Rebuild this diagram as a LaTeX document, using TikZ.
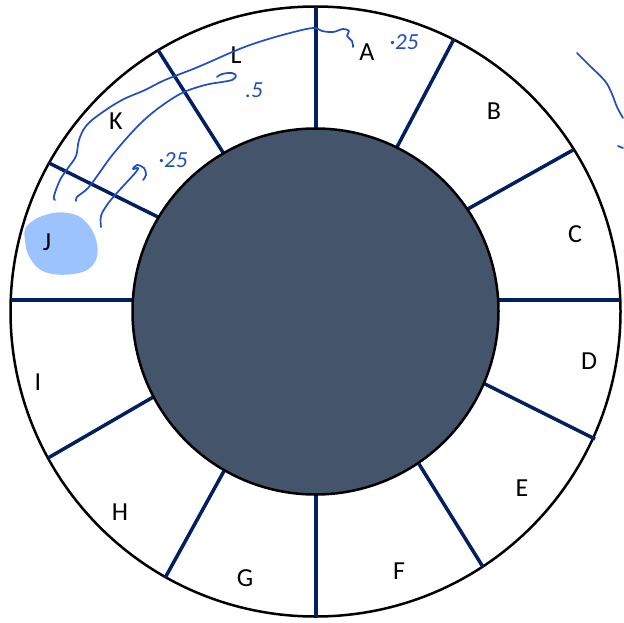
\documentclass[tikz,border=0pt]{standalone}
\usepackage{fontspec}
\setmainfont{Carlito}
\definecolor{navy}{HTML}{002060}
\definecolor{innerfill}{HTML}{44546A}
\definecolor{blob}{HTML}{9DC3FF}
\definecolor{inkblue}{HTML}{1F4FBF}
\begin{document}
\begin{tikzpicture}[x=1pt,y=-1pt,
 divider/.style={line width=3.5pt, draw=navy},
 ring/.style={line width=2.5pt, draw=black},
 lbl/.style={font=\fontsize{26}{30}\selectfont, text=black, inner sep=0pt},
 ink/.style={line width=1.7pt, draw=inkblue, line cap=round, line join=round},
 inktext/.style={font=\fontsize{23}{26}\selectfont\itshape, text=inkblue, inner sep=0pt}]
\useasboundingbox (0,0) rectangle (624,622);
\fill[white] (0,0) rectangle (624,622);
\coordinate (ctr) at (315.5,311.5);
\draw[ring, fill=white] (ctr) circle (305pt);
% dividers
\draw[divider] (316,7) -- (316,130);
\draw[divider] (454,39) -- (397,147);
\draw[divider] (573,150) -- (466,210);
\draw[divider] (620,300) -- (496,300);
\draw[divider] (595,439) -- (483,383);
\draw[divider] (483,567) -- (419,464);
\draw[divider] (316,617) -- (316,493);
\draw[divider] (165,578) -- (224,471);
\draw[divider] (48,458) -- (155,396);
\draw[divider] (11,300) -- (135,300);
\draw[divider] (49,163) -- (160,218);
\draw[divider] (158,50) -- (224,154);
% inner disc
\draw[ring, fill=innerfill] (ctr) circle (183pt);
% highlight blob
\fill[blob] plot[smooth cycle, tension=0.7] coordinates {(27,226) (45,215) (68,213) (86,222) (97,244) (93,265) (73,274) (45,272) (30,258) (25,240)};
% labels
\node[lbl] (A) at (367,52) {A};
\node[lbl] (B) at (494,111) {B};
\node[lbl] (C) at (575,234) {C};
\node[lbl] (D) at (589,361) {D};
\node[lbl] (E) at (522,488) {E};
\node[lbl] (F) at (399,571) {F};
\node[lbl] (G) at (245,578) {G};
\node[lbl] (H) at (120,512) {H};
\node[lbl] (I) at (38,382) {I};
\node[lbl] (J) at (47,242) {J};
\node[lbl] (K) at (116,121) {K};
\node[lbl] (L) at (236,55) {L};
% handwritten strokes
\draw[ink] plot[smooth, tension=0.6] coordinates {(55,200) (54,196) (60,180) (68,168) (76,156) (79,140) (86,126) (100,114) (122,100) (145,90) (165,80) (198,67) (237,50) (262,41) (290,33) (313,28) (322,31) (333,32) (343,29) (349,31) (347,36) (352,41) (353,47)};
\draw[ink] plot[smooth, tension=0.6] coordinates {(76,201) (77,197) (88,188) (100,172) (110,158) (125,140) (142,122) (160,107) (182,93) (205,85) (222,82) (232,80) (236,76) (232,73) (222,74) (217,77)};
\draw[ink] plot[smooth, tension=0.6] coordinates {(101,227) (101,216) (107,205) (116,194) (126,183) (136,172) (138,168) (133,169) (137,165) (144,168) (146,175) (143,180)};
\draw[ink] plot[smooth, tension=0.6] coordinates {(577,53) (590,66) (605,81) (612,94) (617,107) (623,118)};
\draw[ink] (618,146) -- (623,148);
% handwritten numbers
\node[inktext] (n1) at (404,42) {·25};
\node[inktext] (n2) at (254,90) {.5};
\node[inktext] (n3) at (173,160) {·25};
\end{tikzpicture}
\end{document}
